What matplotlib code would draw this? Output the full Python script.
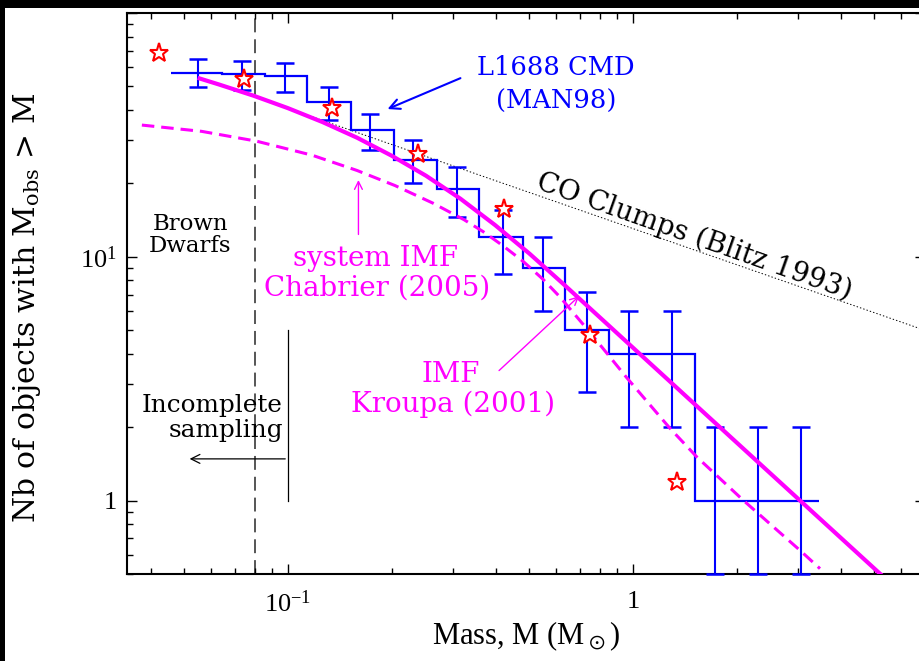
import matplotlib
matplotlib.use('Agg')
import matplotlib.pyplot as plt
from matplotlib.patches import Rectangle
from matplotlib.ticker import FixedLocator, FixedFormatter, LogLocator, NullFormatter

plt.rcParams['mathtext.default'] = 'regular'
plt.rcParams['lines.scale_dashes'] = False

# ---------------- data ----------------
bin_edges = [0.0458, 0.0644, 0.0858, 0.1135, 0.1523, 0.2029, 0.2703, 0.3578,
             0.48, 0.635, 0.852, 1.12, 1.512, 2.0, 2.63, 3.46]
bin_centers = [0.055, 0.0734, 0.098, 0.1315, 0.173, 0.231, 0.308, 0.42,
               0.55, 0.737, 0.974, 1.295, 1.729, 2.307, 3.063]
counts = [57, 56, 55, 43, 33, 25, 19, 12, 9, 5, 4, 4, 1, 1, 1]
count_err = [7.5, 7.5, 7.4, 6.6, 5.7, 5.0, 4.4, 3.5, 3.0, 2.2, 2.0, 2.0, 1.0, 1.0, 1.0]

star_mass = [0.0423, 0.0745, 0.1344, 0.2385, 0.4227, 0.7505, 1.339]
star_n = [68.7, 53.6, 40.6, 26.5, 15.7, 4.76, 1.197]

kroupa_mass = [0.0547, 0.0631, 0.0794, 0.100, 0.1259, 0.1585, 0.1995, 0.2512,
               0.3162, 0.3981, 0.5012, 0.631, 5.30]
kroupa_n = [54.2, 50.9, 45.8, 40.7, 35.7, 30.8, 26.0, 21.5,
            17.3, 13.5, 10.3, 7.69, 0.489]

chabrier_mass = [0.0377, 0.0562, 0.0811, 0.1175, 0.1585, 0.2042, 0.263, 0.3236,
                 0.3673, 0.4198, 0.4797, 0.5483, 0.6142, 0.7499, 0.9594, 1.2794,
                 1.531, 2.084, 3.048, 3.483]
chabrier_n = [34.7, 32.7, 29.8, 26.1, 22.6, 19.6, 16.6, 14.2,
              12.7, 11.1, 9.59, 8.09, 6.84, 4.90, 3.19, 1.98,
              1.51, 1.005, 0.625, 0.526]

co_mass = [0.0547, 7.0]
co_n = [54.7, 5.00]

bd_limit = 0.08
x_ticks = [0.1, 1.0]
x_ticklabels = [r'$10^{-1}$', '1']
y_ticks = [1, 10, 100]
y_ticklabels = ['1', r'$10^{1}$', '']

XMIN, XMAX = 0.03414, 7.02
YMIN, YMAX = 0.5, 100

# ---------------- figure ----------------
W, H = 919, 661
fig = plt.figure(figsize=(W / 100, H / 100), dpi=100, facecolor='white')
ax = fig.add_axes([127 / W, (H - 574) / H, (925 - 127) / W, (574 - 13) / H])
ax.set_xscale('log')
ax.set_yscale('log')
ax.set_xlim(XMIN, XMAX)
ax.set_ylim(YMIN, YMAX)

MAG = '#ff00ff'
BLUE = '#0000ff'

# histogram (cumulative counts)
ax.stairs(counts, bin_edges, baseline=None, color=BLUE, lw=1.6, zorder=3)
err_lo = [min(e, n - YMIN) for e, n in zip(count_err, counts)]
ax.errorbar(bin_centers, counts, yerr=[err_lo, count_err], fmt='none',
            ecolor=BLUE, elinewidth=1.5, capsize=6.5, capthick=1.8,
            zorder=3, clip_on=False)

# model curves
ax.plot(kroupa_mass, kroupa_n, color=MAG, lw=3.0, solid_capstyle='butt', zorder=4)
ax.plot(chabrier_mass, chabrier_n, color=MAG, lw=2.2, dashes=(9, 5), zorder=4)
ax.plot(co_mass, co_n, color='black', lw=0.7, dashes=(1, 1.5), zorder=2)

# brown dwarf limit
ax.axvline(bd_limit, color='#555555', lw=1.4, dashes=(10, 5), zorder=1)

# stars
ax.plot(star_mass, star_n, ls='none', marker='*', ms=14, mfc='white',
        mec='red', mew=1.5, zorder=6)

# ---------------- annotations ----------------
TF = 'DejaVu Serif'
ax.text(0.598, 55.7, 'L1688 CMD', color=BLUE, family=TF, size=18.5, ha='center', va='baseline')
ax.text(0.60, 40.6, '(MAN98)', color=BLUE, family=TF, size=18.5, ha='center', va='baseline')
ax.annotate('', xy=(0.191, 39.96), xytext=(0.3215, 54.6),
            arrowprops=dict(arrowstyle='->', color=BLUE, lw=1.5, mutation_scale=18))

ax.text(0.1788, 9.14, 'system IMF', color=MAG, family=TF, size=20, ha='center', va='baseline')
ax.text(0.181, 6.95, 'Chabrier (2005)', color=MAG, family=TF, size=20, ha='center', va='baseline')
ax.annotate('', xy=(0.16, 21.2), xytext=(0.16, 12.03),
            arrowprops=dict(arrowstyle='->', color=MAG, lw=1.0, mutation_scale=14))

ax.text(0.297, 3.06, 'IMF', color=MAG, family=TF, size=20, ha='center', va='baseline')
ax.text(0.301, 2.305, 'Kroupa (2001)', color=MAG, family=TF, size=20, ha='center', va='baseline')
ax.annotate('', xy=(0.7069, 7.015), xytext=(0.4035, 3.355),
            arrowprops=dict(arrowstyle='->', color=MAG, lw=1.0, mutation_scale=14))

ax.text(0.052, 12.85, 'Brown', color='black', family=TF, size=16.5, ha='center', va='baseline')
ax.text(0.052, 10.46, 'Dwarfs', color='black', family=TF, size=16.5, ha='center', va='baseline')

ax.text(0.0967, 2.305, 'Incomplete', color='black', family=TF, size=17.8, ha='right', va='baseline')
ax.text(0.0967, 1.82, 'sampling', color='black', family=TF, size=17.8, ha='right', va='baseline')
ax.plot([0.1, 0.1], [1.0, 5.0], color='black', lw=0.9)
ax.annotate('', xy=(0.0509, 1.483), xytext=(0.1, 1.483),
            arrowprops=dict(arrowstyle='->', color='black', lw=0.9, mutation_scale=16))

ax.text(1.503, 12.14, 'CO Clumps (Blitz 1993)', color='black', family=TF, size=20,
        ha='center', va='center', rotation=-19.5, rotation_mode='anchor')

# ---------------- axes styling ----------------
for s in ax.spines.values():
    s.set_linewidth(1.5)
ax.xaxis.set_major_locator(FixedLocator(x_ticks))
ax.xaxis.set_major_formatter(FixedFormatter(x_ticklabels))
ax.xaxis.set_minor_locator(LogLocator(base=10, subs=range(2, 10), numticks=20))
ax.xaxis.set_minor_formatter(NullFormatter())
ax.yaxis.set_major_locator(FixedLocator(y_ticks))
ax.yaxis.set_major_formatter(FixedFormatter(y_ticklabels))
ax.yaxis.set_minor_locator(LogLocator(base=10, subs=range(2, 10), numticks=20))
ax.yaxis.set_minor_formatter(NullFormatter())
ax.tick_params(which='both', direction='in', top=True, right=True, width=1.0)
ax.tick_params(which='major', length=7.5)
ax.tick_params(which='minor', length=4)
ax.tick_params(axis='x', pad=12)
ax.tick_params(axis='y', pad=7)
for lab in ax.get_xticklabels() + ax.get_yticklabels():
    lab.set_fontfamily('Liberation Serif')
    lab.set_fontsize(19)

fig.text(526 / W, 1 - 636 / H, r'Mass, M (M$_\odot$)', ha='center', va='center',
         family='Liberation Serif', size=22)
fig.text(27 / W, 1 - 308 / H, r'Nb of objects with M$_{obs}$ > M', ha='center', va='center',
         rotation=90, family=TF, size=21.5)

# black frame strips as in the reference
fig.patches.append(Rectangle((0, 1 - 8 / H), 1, 8 / H, transform=fig.transFigure,
                             facecolor='black', edgecolor='none', zorder=10))
fig.patches.append(Rectangle((0, 0), 5 / W, 1, transform=fig.transFigure,
                             facecolor='black', edgecolor='none', zorder=10))

fig.savefig('out.png', dpi=100, facecolor='white')
